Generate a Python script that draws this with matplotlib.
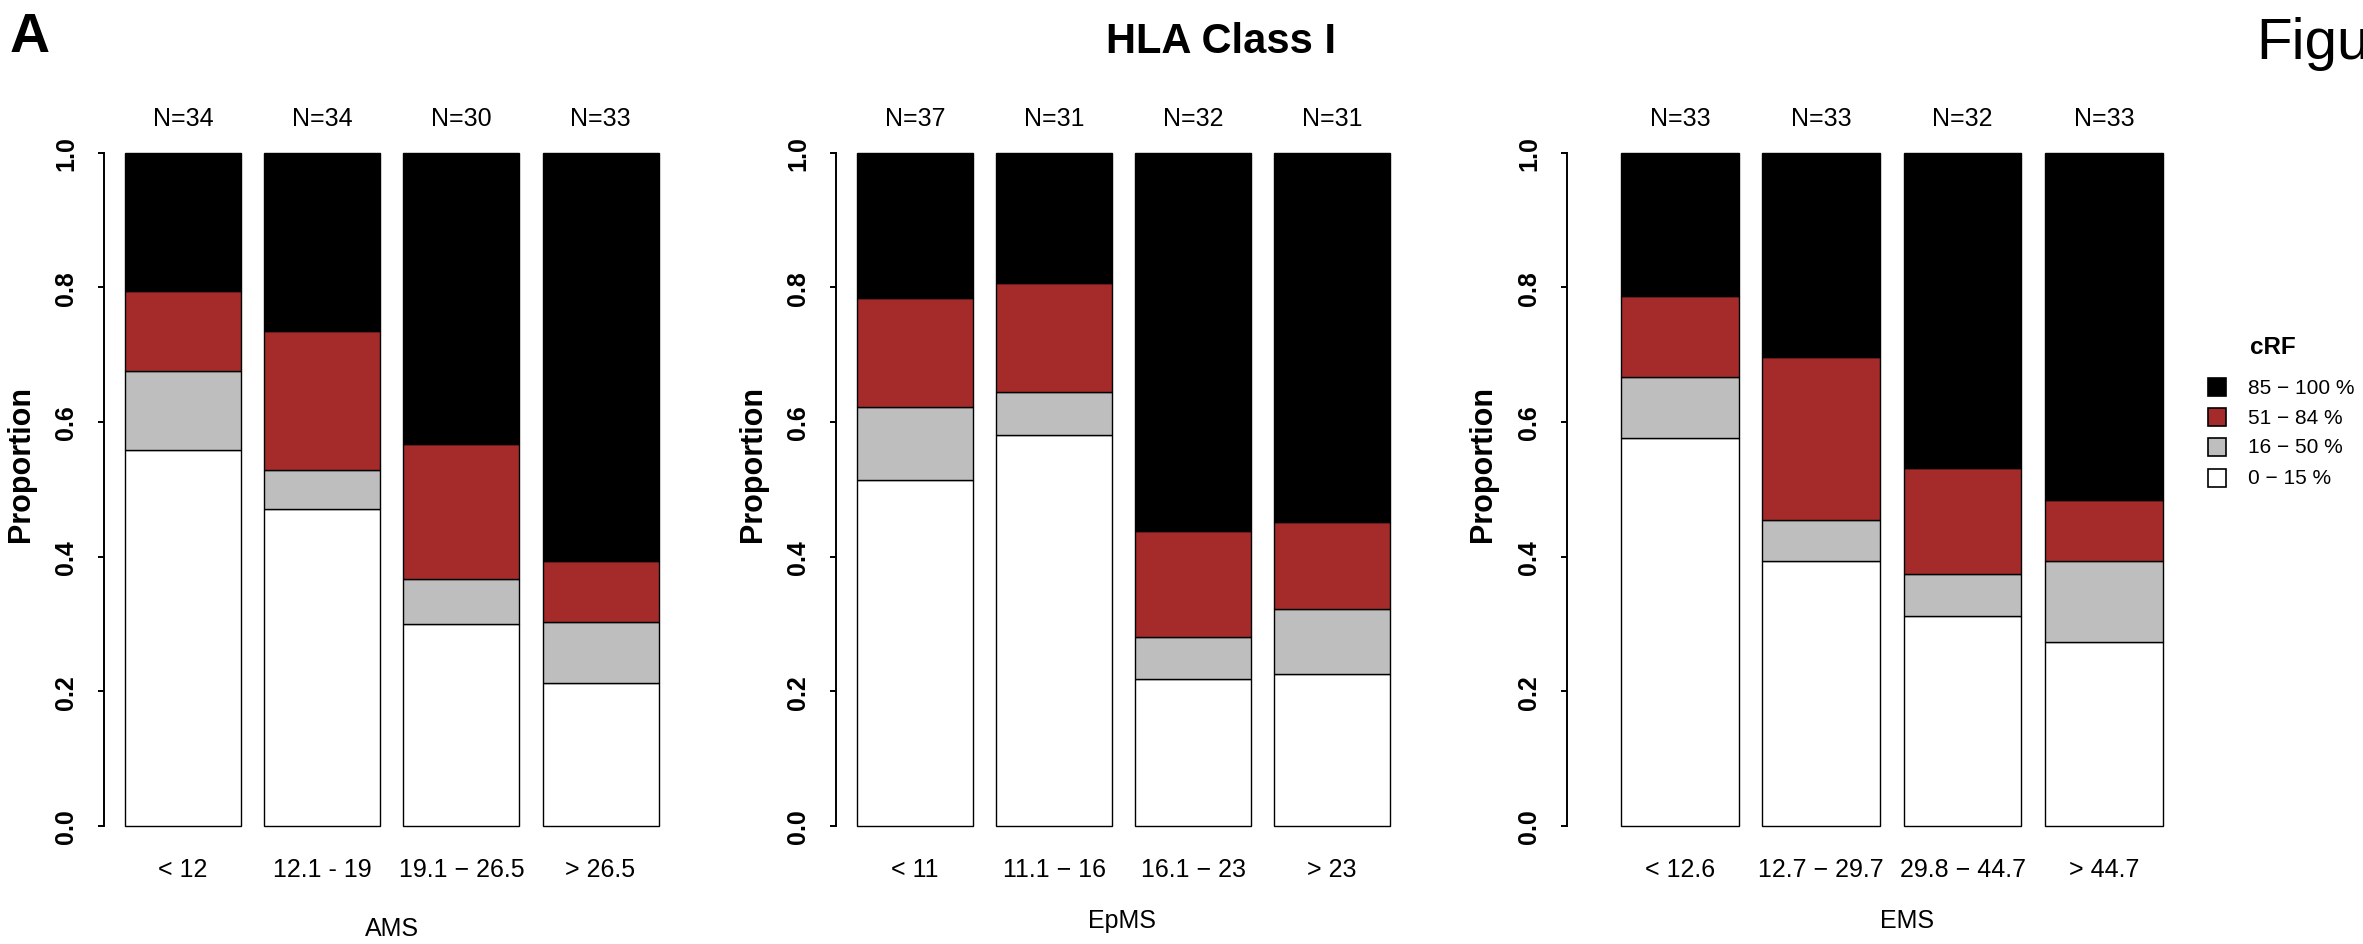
import numpy as np
import matplotlib.pyplot as plt
from matplotlib.patches import Rectangle

plt.rcParams['font.family'] = ['Liberation Sans', 'DejaVu Sans']

# classes de cRF (du bas vers le haut de chaque barre)
classes = ['0 − 15 %', '16 − 50 %', '51 − 84 %', '85 − 100 %']
couleurs = ['white', '#BEBEBE', '#A52A2A', 'black']

# effectifs par groupe : [0-15, 16-50, 51-84, 85-100]
ams_labels = ['< 12', '12.1 - 19', '19.1 − 26.5', '> 26.5']
ams = np.array([[19, 4, 4, 7], [16, 2, 7, 9], [9, 2, 6, 13], [7, 3, 3, 20]])

epms_labels = ['< 11', '11.1 − 16', '16.1 − 23', '> 23']
epms = np.array([[19, 4, 6, 8], [18, 2, 5, 6], [7, 2, 5, 18], [7, 3, 4, 17]])

ems_labels = ['< 12.6', '12.7 − 29.7', '29.8 − 44.7', '> 44.7']
ems = np.array([[19, 3, 4, 7], [13, 2, 8, 10], [10, 2, 5, 15], [9, 4, 3, 17]])

W, H = 2363, 945
fig = plt.figure(figsize=(W / 100, H / 100), dpi=100)

def fx(px):
    return px / W

def fy(py):
    return 1 - py / H

# y = 1.0 a 153.7 px, y = 0 a 827 px
y_top, y_bot = 153.7, 827.0
unit_y = y_bot - y_top

panels = [
    # labels, effectifs, nom, axe px, largeur unite px, xlim gauche, label x px, nom x px, nom y px
    (ams_labels, ams, 'AMS', 103.6, 116.0, 0.016, 21, 392, 929),
    (epms_labels, epms, 'EpMS', 836.0, 115.8, 0.016, 752.6, 1122, 921),
    (ems_labels, ems, 'EMS', 1567.0, 117.8, -0.258, 1483.5, 1907, 921),
]

for labels, counts, nom, ax_px, unit, x0, ylab_px, nom_x, nom_y in panels:
    x1 = 4.984
    left = ax_px
    right = ax_px + (x1 - x0) * unit
    top = y_top - 0.04 * unit_y
    bot = y_bot + 0.04 * unit_y
    ax = fig.add_axes([fx(left), fy(bot), fx(right - left), (bot - top) / H])
    ax.set_xlim(x0, x1)
    ax.set_ylim(-0.04, 1.04)

    n = counts.sum(axis=1)
    prop = counts / n[:, None]
    x = 0.7 + 1.2 * np.arange(len(labels))
    bas = np.zeros(len(labels))
    for k in range(4):
        ax.bar(x, prop[:, k], width=1, bottom=bas, color=couleurs[k],
               edgecolor='black', linewidth=1.0)
        bas = bas + prop[:, k]

    for xi, ni, lab in zip(x, n, labels):
        ax.text(xi, 1 + (y_top - 119) / unit_y, 'N=%d' % ni, ha='center',
                va='center', fontsize=18, clip_on=False)
        ax.text(xi, -(870 - y_bot) / unit_y, lab, ha='center', va='center',
                fontsize=18, clip_on=False)

    for s in ['top', 'right', 'bottom']:
        ax.spines[s].set_visible(False)
    ax.spines['left'].set_bounds(0, 1)
    ax.spines['left'].set_linewidth(1.4)
    ax.set_xticks([])
    ticks = [0, 0.2, 0.4, 0.6, 0.8, 1.0]
    ax.set_yticks(ticks)
    ax.set_yticklabels(['%.1f' % t for t in ticks], rotation=90, va='center',
                       fontsize=18, fontweight='bold')
    ax.tick_params(axis='y', length=4.5, width=1.4, pad=14)

    fig.text(fx(ylab_px), fy(464.5), 'Proportion', rotation=90, ha='center',
             va='center', fontsize=22, fontweight='bold')
    fig.text(fx(nom_x), fy(nom_y), nom, ha='center', va='center', fontsize=18)

# titres
fig.text(fx(10), fy(52), 'A', fontsize=40, fontweight='bold', va='baseline')
fig.text(fx(1221), fy(53), 'HLA Class I', fontsize=30, fontweight='bold',
         ha='center', va='baseline')
fig.text(fx(2256), fy(59), 'Figu', fontsize=42, va='baseline')

# legende
fig.text(fx(2250), fy(347), 'cRF', fontsize=17.5, fontweight='bold', va='center')
rangs = [388, 418, 448, 479]
for r, k in zip(rangs, [3, 2, 1, 0]):
    fig.add_artist(Rectangle((fx(2208), fy(r + 9)), fx(18), 18 / H,
                             facecolor=couleurs[k], edgecolor='black',
                             linewidth=1.2, transform=fig.transFigure))
    fig.text(fx(2248), fy(r), classes[k], fontsize=15, va='center')

fig.savefig('out.png', dpi=100)
